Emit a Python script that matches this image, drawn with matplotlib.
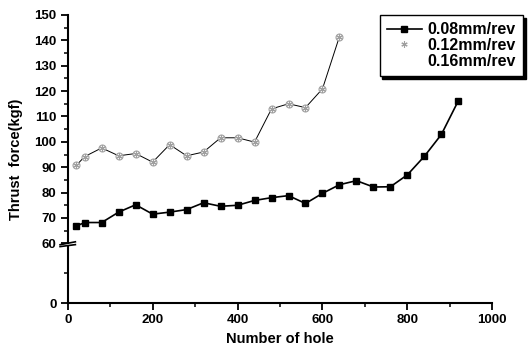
import numpy as np
import matplotlib
matplotlib.use("Agg")
import matplotlib.pyplot as plt
from matplotlib.lines import Line2D
from matplotlib.patches import Rectangle
import matplotlib.transforms as mtransforms

# data
holes_008 = [20, 40, 80, 120, 160, 200, 240, 280, 320, 360, 400, 440, 480, 520,
             560, 600, 640, 680, 720, 760, 800, 840, 880, 920]
force_008 = [66.8, 68.2, 68.2, 72.3, 75.2, 71.5, 72.3, 73.3, 76.0, 74.6, 75.0, 76.9,
             78.0, 78.8, 75.7, 79.7, 83.1, 84.7, 82.2, 82.3, 87.0, 94.3, 102.9, 116.2]

holes_012 = [20, 40, 80, 120, 160, 200, 240, 280, 320, 360, 400, 440, 480, 520,
             560, 600, 640]
force_012 = [90.7, 94.2, 97.6, 94.5, 95.4, 92.0, 98.9, 94.5, 96.0, 101.6, 101.6, 99.9,
             113.0, 115.0, 113.5, 120.9, 141.5]

legend_labels = ["0.08mm/rev", "0.12mm/rev", "0.16mm/rev"]
y_major = [0, 60, 70, 80, 90, 100, 110, 120, 130, 140, 150]
y_minor = [30] + list(range(65, 150, 10))

# broken y axis: below 60 is squeezed
BREAK = 60.0
SQUEEZE = 0.392


def fwd(y):
    y = np.asarray(y, dtype=float)
    return np.where(y >= BREAK, y, BREAK - (BREAK - y) * SQUEEZE)


def inv(y):
    y = np.asarray(y, dtype=float)
    return np.where(y >= BREAK, y, BREAK - (BREAK - y) / SQUEEZE)


plt.rcParams['font.family'] = ['Liberation Sans', 'DejaVu Sans']
plt.rcParams['font.weight'] = 'bold'

fig = plt.figure(figsize=(5.32, 3.47), dpi=100)
ax = fig.add_axes([0.1273, 0.1268, 0.7981, 0.8300])
ax.set_yscale('function', functions=(fwd, inv))

ax.plot(holes_012, force_012, color='black', lw=0.7, zorder=2)
ax.plot(holes_012, force_012, ls='none', marker='o', ms=5, mfc='white',
        mec='#a0a0a0', mew=0.8, zorder=3)
ax.plot(holes_012, force_012, ls='none', marker=(6, 2, 0), ms=4.5, mec='#a0a0a0',
        mew=0.8, zorder=4)
ax.plot(holes_008, force_008, color='black', lw=1.2, marker='s', ms=5,
        mfc='black', mec='black', zorder=5)

ax.set_xlim(0, 1000)
ax.set_ylim(0, 150)
ax.set_xticks([0, 200, 400, 600, 800, 1000])
ax.set_xticks(range(100, 1000, 200), minor=True)
ax.set_yticks(y_major)
ax.set_yticks(y_minor, minor=True)
ax.yaxis.set_major_formatter(matplotlib.ticker.FormatStrFormatter('%d'))
ax.yaxis.set_minor_formatter(matplotlib.ticker.NullFormatter())

for s in ['top', 'right']:
    ax.spines[s].set_visible(False)
for s in ['left', 'bottom']:
    ax.spines[s].set_linewidth(1.5)
ax.tick_params(which='major', length=5, width=1.3, labelsize=9.5, pad=3)
ax.tick_params(which='minor', length=3, width=1.1)
for lab in ax.get_xticklabels() + ax.get_yticklabels():
    lab.set_fontweight('bold')

ax.set_xlabel("Number of hole", fontsize=10.5, fontweight='bold', labelpad=4)
ax.set_ylabel("Thrust  force(kgf)", fontsize=10.5, fontweight='bold', labelpad=8)

# break marks on the y axis
trans = mtransforms.blended_transform_factory(ax.transAxes, ax.transData)
ax.add_patch(Rectangle((-0.01, 57.6), 0.02, 1.3, transform=trans, facecolor='white',
                       edgecolor='none', clip_on=False, zorder=6))
for yb in [59.2, 57.3]:
    ax.plot([-0.018, 0.018], [yb - 0.6, yb + 1.4], transform=trans, color='black',
            lw=1.2, clip_on=False, zorder=7)

# legend
handles = [
    Line2D([], [], color='black', lw=1.2, marker='s', ms=5),
    Line2D([], [], ls='none', marker=(6, 2, 0), ms=4.5, mec='#a0a0a0', mew=0.8),
    Line2D([], [], ls='none'),
]
leg = fig.legend(handles, legend_labels, loc='upper right',
                 bbox_to_anchor=(523 / 532, 1 - 15 / 347),
                 frameon=True, fancybox=False, shadow={'color': 'black', 'alpha': 1},
                 handlelength=2.2, handletextpad=0.35, borderpad=0.45,
                 labelspacing=0.05, borderaxespad=0.0,
                 prop={'weight': 'bold', 'size': 11.5})
leg.get_frame().set_edgecolor('black')
leg.get_frame().set_linewidth(1.0)

fig.savefig("out.png", dpi=100)
